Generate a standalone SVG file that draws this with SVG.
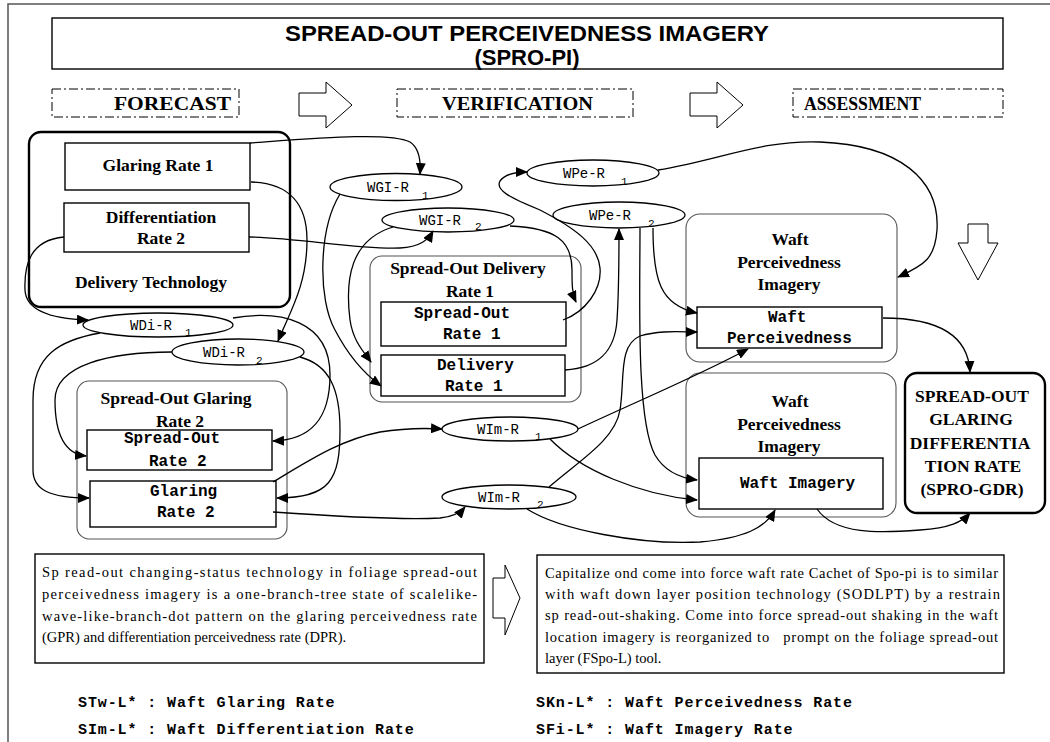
<svg xmlns="http://www.w3.org/2000/svg" width="1050" height="742" viewBox="0 0 1050 742">
<defs>
<marker id="ah" markerWidth="12" markerHeight="10" refX="11" refY="5" orient="auto" markerUnits="userSpaceOnUse"><path d="M0,0 L12,5 L0,10 z" fill="#000"/></marker>
<style>
.frame{fill:none;stroke:#555;stroke-width:1.5}
.box{fill:#fff;stroke:#000;stroke-width:1.4}
.thick{fill:#fff;stroke:#000;stroke-width:2.4}
.thin{fill:#fff;stroke:#555;stroke-width:1.1}
.dash{fill:none;stroke:#000;stroke-width:1;stroke-dasharray:9,3,2,3}
.hollow{fill:#fff;stroke:#000;stroke-width:1}
.ell{fill:#fff;stroke:#000;stroke-width:1.3}
.c{fill:none;stroke:#000;stroke-width:1.3;marker-end:url(#ah)}
.title{font-family:"Liberation Sans",Arial,sans-serif;font-weight:bold;font-size:22px;text-anchor:middle}
.phase{font-family:"Liberation Serif","Times New Roman",serif;font-weight:bold;font-size:19px}
.ser{font-family:"Liberation Serif","Times New Roman",serif;font-weight:bold;font-size:17.5px;text-anchor:middle}
.mono{font-family:"Liberation Mono","Courier New",monospace;font-weight:bold;font-size:16px}
.lab{font-family:"Liberation Mono","Courier New",monospace;font-size:14px}
.sub{font-family:"Liberation Mono","Courier New",monospace;font-size:11px}
.body{font-family:"Liberation Serif","Times New Roman",serif;font-size:14.5px}
.leg{font-family:"Liberation Mono","Courier New",monospace;font-weight:bold;font-size:15px;letter-spacing:0.9px}
</style>
</defs>
<rect width="1050" height="742" fill="#fff"/>
<path class="frame" d="M8,760 L8,4 L1060,4"/>

<g id="title">
<rect x="52" y="18" width="951" height="51" fill="#fff" stroke="#000" stroke-width="1.4"/>
<text class="title" x="527" y="41" textLength="484" lengthAdjust="spacingAndGlyphs">SPREAD-OUT PERCEIVEDNESS IMAGERY</text>
<text class="title" x="527" y="65">(SPRO-PI)</text>
</g>

<g id="phases">
<rect class="dash" x="52" y="89" width="187" height="28"/>
<text class="phase" x="114" y="110" textLength="117" lengthAdjust="spacingAndGlyphs">FORECAST</text>
<rect class="dash" x="397" y="89" width="236" height="28"/>
<text class="phase" x="442" y="110" textLength="151" lengthAdjust="spacingAndGlyphs">VERIFICATION</text>
<rect class="dash" x="793" y="89" width="210" height="28"/>
<text class="phase" x="804" y="110" textLength="117" lengthAdjust="spacingAndGlyphs">ASSESSMENT</text>
<polygon class="hollow" points="299,93 326,93 326,82 352,105 326,128 326,116 299,116"/>
<polygon class="hollow" points="690,93 717,93 717,82 743,105 717,128 717,116 690,116"/>
<polygon class="hollow" points="968,224 988,224 988,243 998,243 978,280 958,243 968,243"/>
</g>

<g id="delivery-technology">
<rect class="thick" x="29" y="132" width="261" height="175" rx="12"/>
<text class="ser" x="151" y="288">Delivery Technology</text>
</g>
<g id="glaring-rate-1">
<rect class="box" x="65" y="143" width="185" height="47"/>
<text class="ser" x="158" y="171">Glaring Rate 1</text>
</g>
<g id="differentiation-rate-2">
<rect class="box" x="64" y="203" width="185" height="49"/>
<text class="ser" x="161" y="223">Differentiation</text>
<text class="ser" x="161" y="244">Rate 2</text>
</g>

<g id="spread-out-delivery-rate-1">
<rect class="thin" x="370" y="256" width="211" height="146" rx="12"/>
<text class="ser" x="468" y="274">Spread-Out Delivery</text>
<text class="ser" x="470" y="297">Rate 1</text>
</g>
<g id="spread-out-rate-1">
<rect class="box" x="381" y="302" width="185" height="44"/>
<text class="mono" x="414" y="318">Spread-Out</text>
<text class="mono" x="443" y="339">Rate 1</text>
</g>
<g id="delivery-rate-1">
<rect class="box" x="381" y="355" width="184" height="41"/>
<text class="mono" x="437" y="370">Delivery</text>
<text class="mono" x="445" y="391">Rate 1</text>
</g>

<g id="spread-out-glaring-rate-2">
<rect class="thin" x="77" y="381" width="210" height="158" rx="12"/>
<text class="ser" x="176" y="404">Spread-Out Glaring</text>
<text class="ser" x="180" y="427">Rate 2</text>
</g>
<g id="spread-out-rate-2">
<rect class="box" x="87" y="430" width="185" height="40"/>
<text class="mono" x="124" y="443">Spread-Out</text>
<text class="mono" x="149" y="466">Rate 2</text>
</g>
<g id="glaring-rate-2">
<rect class="box" x="90" y="481" width="186" height="46"/>
<text class="mono" x="150" y="496">Glaring</text>
<text class="mono" x="157" y="517">Rate 2</text>
</g>

<g id="waft-perceivedness-imagery-1">
<rect class="thin" x="686" y="214" width="211" height="148" rx="14"/>
<text class="ser" x="790" y="245">Waft</text>
<text class="ser" x="789" y="268">Perceivedness</text>
<text class="ser" x="789" y="290">Imagery</text>
</g>
<g id="waft-perceivedness">
<rect class="box" x="697" y="307" width="185" height="41"/>
<text class="mono" x="768" y="322">Waft</text>
<text class="mono" x="727" y="343">Perceivedness</text>
</g>
<g id="waft-perceivedness-imagery-2">
<rect class="thin" x="686" y="373" width="210" height="144" rx="14"/>
<text class="ser" x="790" y="407">Waft</text>
<text class="ser" x="789" y="430">Perceivedness</text>
<text class="ser" x="789" y="452">Imagery</text>
</g>
<g id="waft-imagery">
<rect class="box" x="699" y="458" width="184" height="51"/>
<text class="mono" x="740" y="488">Waft Imagery</text>
</g>

<g id="spro-gdr">
<rect class="thick" x="905" y="373" width="140" height="140" rx="12"/>
<text class="ser" x="972" y="402">SPREAD-OUT</text>
<text class="ser" x="971" y="425">GLARING</text>
<text class="ser" x="970" y="449">DIFFERENTIA</text>
<text class="ser" x="973" y="472">TION RATE</text>
<text class="ser" x="972" y="495">(SPRO-GDR)</text>
</g>

<g id="wgi-r1"><ellipse class="ell" cx="396" cy="187" rx="66" ry="13.5"/><text class="lab" x="367" y="192">WGI-R</text><text class="sub" x="422" y="199">1</text></g>
<g id="wgi-r2"><ellipse class="ell" cx="448" cy="220" rx="66" ry="12"/><text class="lab" x="419" y="225">WGI-R</text><text class="sub" x="475" y="230">2</text></g>
<g id="wpe-r1"><ellipse class="ell" cx="593" cy="173" rx="66" ry="13"/><text class="lab" x="563" y="178">WPe-R</text><text class="sub" x="621" y="185">1</text></g>
<g id="wpe-r2"><ellipse class="ell" cx="619" cy="215" rx="66" ry="13"/><text class="lab" x="589" y="220">WPe-R</text><text class="sub" x="648" y="227">2</text></g>
<g id="wdi-r1"><ellipse class="ell" cx="158" cy="325" rx="75" ry="12"/><text class="lab" x="130" y="330">WDi-R</text><text class="sub" x="185" y="336">1</text></g>
<g id="wdi-r2"><ellipse class="ell" cx="238" cy="352" rx="66" ry="13"/><text class="lab" x="203" y="357">WDi-R</text><text class="sub" x="256" y="364">2</text></g>
<g id="wim-r1"><ellipse class="ell" cx="510" cy="429" rx="68" ry="12"/><text class="lab" x="477" y="434">WIm-R</text><text class="sub" x="535" y="440">1</text></g>
<g id="wim-r2"><ellipse class="ell" cx="509" cy="497" rx="67" ry="12"/><text class="lab" x="478" y="502">WIm-R</text><text class="sub" x="537" y="508">2</text></g>

<g id="connectors">
<path class="c" d="M250,143 C320,138 390,132 410,142 C419,148 421,160 420,174"/>
<path class="c" d="M251,182 C290,183 307,205 307,240 C307,285 290,312 278,341"/>
<path class="c" d="M64,237 C30,240 24,265 25,290 C26,312 55,319 88,320"/>
<path class="c" d="M249,237 C300,238 360,250 400,248 C420,247 428,240 433,231"/>
<path class="c" d="M340,194 C318,230 318,300 335,330 C348,355 362,372 381,386"/>
<path class="c" d="M393,227 C350,240 345,280 350,320 C353,340 362,350 371,362"/>
<path class="c" d="M510,226 C555,228 572,240 572,270 C572,285 572,293 576,302"/>
<path class="c" d="M563,320 C585,312 602,290 600,268 C598,245 575,228 540,210 C510,198 495,190 500,181 C505,174 515,172 527,172"/>
<path class="c" d="M565,370 C600,368 615,350 617,320 C619,290 619,260 619,229"/>
<path class="c" d="M658,170 C720,160 760,140 820,142 C900,145 940,180 937,230 C935,258 925,265 898,277"/>
<path class="c" d="M653,228 C653,280 660,305 697,313"/>
<path class="c" d="M640,228 C640,300 636,420 655,455 C665,472 680,478 697,480"/>
<path class="c" d="M549,487 C580,460 615,440 620,410 C625,380 618,345 640,336 C660,330 680,332 697,332"/>
<path class="c" d="M578,429 C640,400 700,375 748,349"/>
<path class="c" d="M550,439 C580,470 640,495 697,500"/>
<path class="c" d="M527,509 C560,530 640,545 700,542 C745,538 765,528 775,510"/>
<path class="c" d="M817,509 C835,535 880,533 920,530 C950,528 962,522 970,513"/>
<path class="c" d="M883,318 C930,318 968,330 970,372"/>
<path class="c" d="M233,318 C280,310 330,320 330,375 C330,420 310,440 273,441"/>
<path class="c" d="M100,333 C60,340 33,355 33,400 L33,470 C33,490 50,498 89,498"/>
<path class="c" d="M172,352 C110,352 55,365 55,400 C55,435 65,454 86,456"/>
<path class="c" d="M300,357 C330,365 340,390 340,430 C340,480 330,498 277,498"/>
<path class="c" d="M273,482 C310,460 340,440 380,432 C405,428 425,428 442,429"/>
<path class="c" d="M273,512 C330,516 400,520 440,518 C452,517 460,513 465,507"/>
</g>

<g id="note-left">
<rect class="box" x="35" y="554" width="449" height="109"/>
<text class="body" x="42" y="577" textLength="435" lengthAdjust="spacing">Sp read-out changing-status technology in foliage spread-out</text>
<text class="body" x="42" y="599" textLength="435" lengthAdjust="spacing">perceivedness imagery is a one-branch-tree state of scalelike-</text>
<text class="body" x="42" y="621" textLength="435" lengthAdjust="spacing">wave-like-branch-dot pattern on the glaring perceivedness rate</text>
<text class="body" x="42" y="642">(GPR) and differentiation perceivedness rate (DPR).</text>
</g>
<polygon class="hollow" points="493,578 505,578 505,565 520,598 505,635 505,618 493,618"/>
<g id="note-right">
<rect class="box" x="537" y="555" width="467" height="118"/>
<text class="body" x="545" y="578" textLength="453" lengthAdjust="spacing">Capitalize ond come into force waft rate Cachet of Spo-pi is to similar</text>
<text class="body" x="545" y="599" textLength="455" lengthAdjust="spacing">with waft down layer position technology (SODLPT) by a restrain</text>
<text class="body" x="545" y="620" textLength="453" lengthAdjust="spacing">sp read-out-shaking. Come into force spread-out shaking in the waft</text>
<text class="body" x="545" y="642" textLength="453" lengthAdjust="spacing">location imagery is reorganized to &#160; prompt on the foliage spread-out</text>
<text class="body" x="545" y="663">layer (FSpo-L) tool.</text>
</g>

<g id="legend">
<text class="leg" x="78" y="707">STw-L* : Waft Glaring Rate</text>
<text class="leg" x="78" y="734">SIm-L* : Waft Differentiation Rate</text>
<text class="leg" x="536" y="707">SKn-L* : Waft Perceivedness Rate</text>
<text class="leg" x="536" y="734">SFi-L* : Waft Imagery Rate</text>
</g>
</svg>
